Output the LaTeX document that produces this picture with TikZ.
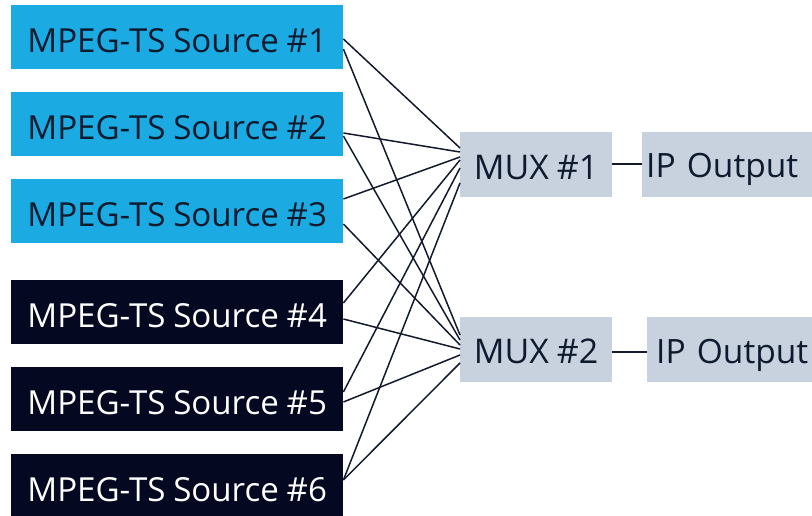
\documentclass[tikz,border=0pt]{standalone}
\usepackage{fontspec}
\setmainfont{Open Sans}[WordSpace=0.9]
\definecolor{srcblue}{HTML}{1BABE2}
\definecolor{srcdark}{HTML}{050821}
\definecolor{muxgray}{HTML}{C8D2DE}
\definecolor{inkdark}{HTML}{0E1A2D}
\definecolor{wirec}{HTML}{121A2C}
\begin{document}
\begin{tikzpicture}[x=1pt,y=-1pt,
  srcbox/.style={anchor=north west,minimum width=332pt,minimum height=64pt,inner sep=0pt,
    font=\fontsize{33.1}{40}\selectfont,text height=30pt,text depth=0pt},
  bluesrc/.style={srcbox,fill=srcblue,text=inkdark},
  darksrc/.style={srcbox,fill=srcdark,text=white},
  muxbox/.style={anchor=north west,fill=muxgray,text=inkdark,minimum width=152pt,minimum height=65pt,
    inner sep=0pt,font=\fontsize{34}{42}\selectfont,text depth=0pt},
  ipbox/.style={anchor=north west,fill=muxgray,text=inkdark,minimum height=65pt,
    inner ysep=0pt,inner xsep=4pt,align=left,font=\fontsize{33.5}{40}\selectfont,text depth=0pt},
  wire/.style={draw=wirec,line width=1.5pt}]
\useasboundingbox (0,0) rectangle (812,516);
\node[bluesrc] (s1) at (11,5) {MPEG-TS Source \#1};
\node[bluesrc] (s2) at (11,92) {MPEG-TS Source \#2};
\node[bluesrc] (s3) at (11,179) {MPEG-TS Source \#3};
\node[darksrc] (s4) at (11,280) {MPEG-TS Source \#4};
\node[darksrc] (s5) at (11,367) {MPEG-TS Source \#5};
\node[darksrc] (s6) at (11,454) {MPEG-TS Source \#6};
\node[muxbox,text height=29pt] (m1) at (460,132) {MUX \#1};
\node[muxbox,text height=27pt] (m2) at (460,317) {MUX \#2};
\node[ipbox,text width=164pt,text height=26pt] (ip1) at (642,132) {IP Output};
\node[ipbox,text width=164pt,text height=27pt,inner xsep=9pt] (ip2) at (647,317) {IP Output};
% to MUX 1
\draw[wire] ([yshift=-34pt]s1.north east) -- ([yshift=-16pt]m1.north west);
\draw[wire] ([yshift=-41pt]s2.north east) -- ([yshift=-20pt]m1.north west);
\draw[wire] ([yshift=-20pt]s3.north east) -- ([yshift=-25pt]m1.north west);
\draw[wire] ([yshift=-23pt]s4.north east) -- ([yshift=-28pt]m1.north west);
\draw[wire] ([yshift=-25pt]s5.north east) -- ([yshift=-36pt]m1.north west);
\draw[wire] ([yshift=-26pt]s6.north east) -- ([yshift=-51pt]m1.north west);
% to MUX 2
\draw[wire] ([yshift=-44pt]s1.north east) -- ([yshift=-18pt]m2.north west);
\draw[wire] ([yshift=-44pt]s2.north east) -- ([yshift=-23pt]m2.north west);
\draw[wire] ([yshift=-45pt]s3.north east) -- ([yshift=-28pt]m2.north west);
\draw[wire] ([yshift=-39pt]s4.north east) -- ([yshift=-32pt]m2.north west);
\draw[wire] ([yshift=-35pt]s5.north east) -- ([yshift=-38pt]m2.north west);
\draw[wire] ([yshift=-26pt]s6.north east) -- ([yshift=-46pt]m2.north west);
% outputs
\draw[wire] ([yshift=-32pt]m1.north east) -- ([yshift=-32pt]ip1.north west);
\draw[wire] ([yshift=-35pt]m2.north east) -- ([yshift=-35pt]ip2.north west);
\end{tikzpicture}
\end{document}
